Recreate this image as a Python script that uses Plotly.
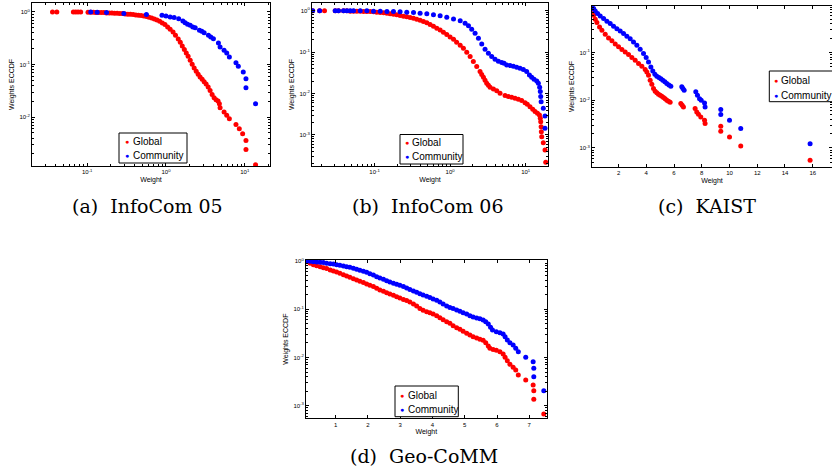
import math
import plotly.graph_objects as go

# ---------------- data ----------------
# (a) InfoCom 05
a_global_w = [0.0363, 0.0412, 0.0668, 0.0716, 0.0766, 0.0828, 0.1025, 0.111, 0.120, 0.129,
              0.140, 0.151, 0.163, 0.176, 0.191, 0.206, 0.222, 0.240, 0.260, 0.281,
              0.303, 0.328, 0.354, 0.383, 0.414, 0.447, 0.483, 0.522, 0.565, 0.610,
              0.659, 0.712, 0.769, 0.832, 0.899, 0.971, 1.05, 1.13, 1.23, 1.32,
              1.43, 1.52, 1.61, 1.71, 1.81, 1.91, 2.03, 2.15, 2.28, 2.42,
              2.56, 2.71, 2.88, 3.05, 3.23, 3.43, 3.63, 3.85, 4.08, 4.32,
              4.58, 4.76, 4.86, 5.46, 5.90, 6.37, 7.73, 8.52, 9.39, 10.35,
              10.35, 13.7]
a_global_ccdf = [1.0, 1.0, 1.0, 1.0, 1.0, 1.0, 0.985, 0.985, 0.985, 0.971,
                 0.971, 0.971, 0.971, 0.957, 0.957, 0.957, 0.943, 0.943, 0.930, 0.930,
                 0.916, 0.903, 0.903, 0.890, 0.877, 0.864, 0.852, 0.839, 0.815, 0.791,
                 0.769, 0.736, 0.704, 0.664, 0.617, 0.574, 0.518, 0.468, 0.416, 0.359,
                 0.306, 0.264, 0.225, 0.192, 0.166, 0.143, 0.120, 0.101, 0.0858, 0.0741,
                 0.0650, 0.0578, 0.0522, 0.0471, 0.0425, 0.0373, 0.0322, 0.0270, 0.0233, 0.0214,
                 0.0202, 0.0180, 0.0151, 0.0125, 0.0108, 0.0093, 0.00725, 0.0060, 0.00482, 0.0036,
                 0.00242, 0.00124]
a_comm_w = [0.111, 0.134, 0.176, 0.292, 0.565, 0.890, 1.0, 1.13, 1.27, 1.45,
            1.64, 1.75, 1.88, 2.03, 2.19, 2.35, 2.66, 2.85, 3.05, 3.46,
            3.70, 4.00, 4.63, 4.86, 5.46, 5.90, 6.37, 7.73, 8.28, 9.57,
            10.35, 10.35, 13.7]
a_comm_ccdf = [1.0, 0.985, 0.971, 0.930, 0.890, 0.864, 0.839, 0.803, 0.780, 0.746,
               0.674, 0.626, 0.582, 0.557, 0.518, 0.503, 0.448, 0.428, 0.404, 0.359,
               0.334, 0.310, 0.257, 0.216, 0.186, 0.166, 0.139, 0.108, 0.0923, 0.0720,
               0.0537, 0.0362, 0.0180]

# (b) InfoCom 06
b_global_w = [0.0152, 0.0188, 0.0218, 0.0302, 0.0334, 0.0389, 0.0431, 0.0477, 0.0528, 0.0584,
              0.0647, 0.0716, 0.0792, 0.0877, 0.0970, 0.107, 0.119, 0.132, 0.146, 0.161,
              0.178, 0.197, 0.218, 0.242, 0.267, 0.296, 0.328, 0.362, 0.401, 0.444,
              0.492, 0.544, 0.602, 0.667, 0.738, 0.816, 0.903, 1.0, 1.11, 1.22,
              1.36, 1.50, 1.66, 1.84, 2.03, 2.25, 2.49, 2.62, 2.76, 2.90,
              3.05, 3.21, 3.38, 3.74, 4.14, 4.58, 5.33, 5.90, 6.53, 7.23,
              8.00, 8.85, 9.80, 10.5, 11.4, 12.4, 13.3, 14.3, 15.2, 15.6,
              15.8, 16.0, 16.1, 16.3, 17.1, 18.0, 18.4]
b_global_ccdf = [1.0, 1.0, 1.0, 1.0, 1.0, 1.0, 1.0, 0.982, 0.982, 0.982,
                 0.982, 0.964, 0.964, 0.964, 0.946, 0.928, 0.911, 0.895, 0.878, 0.846,
                 0.830, 0.800, 0.771, 0.743, 0.716, 0.690, 0.665, 0.629, 0.594, 0.552,
                 0.513, 0.467, 0.426, 0.381, 0.347, 0.305, 0.268, 0.235, 0.206, 0.175,
                 0.148, 0.125, 0.100, 0.0786, 0.0594, 0.0450, 0.0340, 0.0288, 0.0248, 0.0210,
                 0.0178, 0.0159, 0.0142, 0.0130, 0.0118, 0.0102, 0.00895, 0.00846, 0.00815, 0.00771,
                 0.00729, 0.00677, 0.00605, 0.00552, 0.00484, 0.00418, 0.00367, 0.00334, 0.00305, 0.00253,
                 0.00210, 0.00159, 0.00120, 0.000912, 0.000653, 0.000434, 0.000218]
b_comm_w = [0.0152, 0.0188, 0.0302, 0.0334, 0.0389, 0.0431, 0.0477, 0.0528, 0.0647, 0.0792,
            0.0970, 0.119, 0.146, 0.178, 0.218, 0.267, 0.328, 0.401, 0.492, 0.602,
            0.738, 0.903, 1.11, 1.36, 1.58, 1.75, 1.93, 2.14, 2.37, 2.62,
            2.90, 3.21, 3.55, 3.93, 4.35, 4.82, 5.17, 5.61, 6.21, 6.87,
            7.60, 8.41, 9.31, 10.3, 11.2, 12.0, 12.9, 14.0, 14.7, 15.3,
            15.6, 15.8, 16.0, 17.1, 18.0, 18.0]
b_comm_ccdf = [1.0, 1.0, 1.0, 1.0, 1.0, 1.0, 1.0, 1.0, 1.0, 1.0,
               0.982, 0.982, 0.964, 0.964, 0.946, 0.928, 0.911, 0.878, 0.846, 0.800,
               0.757, 0.703, 0.640, 0.573, 0.503, 0.434, 0.360, 0.288, 0.218, 0.159,
               0.118, 0.0946, 0.0786, 0.0677, 0.0605, 0.0562, 0.0542, 0.0494, 0.0476, 0.0458,
               0.0434, 0.0410, 0.0381, 0.0340, 0.0283, 0.0248, 0.0222, 0.0202, 0.0178, 0.0142,
               0.0112, 0.00846, 0.00639, 0.00442, 0.00288, 0.00145]

# (c) KAIST
c_global_w = [0.08, 0.20, 0.32, 0.44, 0.63, 0.80, 1.04, 1.28, 1.52, 1.76,
              2.00, 2.24, 2.48, 2.72, 2.96, 3.20, 3.44, 3.68, 3.92, 4.04,
              4.16, 4.28, 4.40, 4.52, 4.64, 4.76, 4.88, 5.00, 5.12, 5.24,
              5.36, 5.48, 5.60, 5.72, 6.49, 6.59, 6.68, 7.52, 7.64, 7.76,
              7.93, 8.20, 8.24, 9.37, 9.37, 10.00, 10.81, 15.81]
c_global_ccdf = [0.798, 0.607, 0.500, 0.426, 0.345, 0.294, 0.243, 0.203, 0.176, 0.152,
                 0.132, 0.116, 0.103, 0.0908, 0.0785, 0.0690, 0.0588, 0.0517, 0.0440, 0.0393,
                 0.0334, 0.0263, 0.0217, 0.0176, 0.0155, 0.0143, 0.0134, 0.0127, 0.0121, 0.0114,
                 0.0107, 0.0100, 0.00953, 0.00908, 0.00851, 0.00785, 0.00724, 0.00668, 0.00569, 0.00508,
                 0.00447, 0.00380, 0.00324, 0.00285, 0.00224, 0.00170, 0.00110, 0.000551]
c_comm_w = [0.08, 0.20, 0.32, 0.49, 0.68, 0.92, 1.16, 1.40, 1.64, 1.88,
            2.12, 2.36, 2.60, 2.84, 3.08, 3.32, 3.56, 3.80, 3.99, 4.16,
            4.33, 4.47, 4.62, 4.76, 4.91, 5.05, 5.19, 5.34, 5.48, 5.63,
            5.77, 6.56, 6.64, 6.73, 7.57, 7.69, 7.84, 7.96, 8.20, 8.24,
            9.37, 9.37, 10.00, 10.81, 15.81]
c_comm_ccdf = [0.953, 0.838, 0.748, 0.658, 0.588, 0.517, 0.454, 0.406, 0.356, 0.318,
               0.285, 0.250, 0.220, 0.194, 0.167, 0.143, 0.117, 0.0953, 0.0785, 0.0637,
               0.0500, 0.0412, 0.0351, 0.0319, 0.0299, 0.0281, 0.0263, 0.0243, 0.0224, 0.0210,
               0.0197, 0.0191, 0.0176, 0.0162, 0.0150, 0.0127, 0.0108, 0.0100, 0.00879, 0.00724,
               0.00637, 0.00500, 0.00380, 0.00255, 0.00123]

# (d) Geo-CoMM
d_global_w = [0.10, 0.21, 0.31, 0.41, 0.52, 0.62, 0.72, 0.83, 0.93, 1.03,
              1.13, 1.24, 1.34, 1.44, 1.55, 1.65, 1.75, 1.86, 1.96, 2.06,
              2.17, 2.27, 2.37, 2.48, 2.58, 2.68, 2.79, 2.89, 2.99, 3.10,
              3.20, 3.30, 3.41, 3.51, 3.61, 3.71, 3.82, 3.92, 4.02, 4.13,
              4.23, 4.33, 4.44, 4.54, 4.64, 4.75, 4.85, 4.95, 5.06, 5.16,
              5.26, 5.37, 5.47, 5.57, 5.65, 5.73, 5.78, 5.88, 5.98, 6.09,
              6.19, 6.25, 6.32, 6.40, 6.50, 6.58, 6.66, 6.89, 7.12, 7.14,
              7.14, 7.45]
d_global_ccdf = [0.969, 0.895, 0.839, 0.800, 0.763, 0.727, 0.694, 0.651, 0.621, 0.592,
                 0.555, 0.521, 0.489, 0.458, 0.430, 0.404, 0.379, 0.356, 0.334, 0.313,
                 0.294, 0.271, 0.250, 0.235, 0.220, 0.207, 0.194, 0.182, 0.171, 0.160,
                 0.151, 0.141, 0.128, 0.117, 0.104, 0.0948, 0.0891, 0.0849, 0.0796, 0.0736,
                 0.0669, 0.0608, 0.0553, 0.0510, 0.0456, 0.0415, 0.0383, 0.0348, 0.0316, 0.0292,
                 0.0270, 0.0253, 0.0238, 0.0227, 0.0203, 0.0173, 0.0155, 0.0147, 0.0141, 0.0132,
                 0.0118, 0.0101, 0.00859, 0.00721, 0.00624, 0.00550, 0.00433, 0.00341, 0.00269, 0.00205,
                 0.00136, 0.000673]
d_comm_w = [0.10, 0.21, 0.31, 0.41, 0.52, 0.62, 0.72, 0.83, 0.93, 1.03,
            1.13, 1.24, 1.34, 1.44, 1.55, 1.65, 1.75, 1.86, 1.96, 2.06,
            2.17, 2.27, 2.37, 2.48, 2.58, 2.68, 2.79, 2.89, 2.99, 3.10,
            3.20, 3.30, 3.41, 3.51, 3.61, 3.71, 3.82, 3.92, 4.02, 4.13,
            4.23, 4.33, 4.44, 4.54, 4.64, 4.75, 4.85, 4.95, 5.06, 5.16,
            5.26, 5.37, 5.47, 5.57, 5.65, 5.73, 5.80, 5.86, 5.98, 6.09,
            6.19, 6.25, 6.32, 6.40, 6.50, 6.58, 6.66, 6.89, 7.12, 7.14,
            7.14, 7.45]
d_comm_ccdf = [1.0, 0.984, 0.969, 0.953, 0.938, 0.924, 0.895, 0.880, 0.867, 0.839,
               0.813, 0.788, 0.763, 0.739, 0.705, 0.672, 0.641, 0.611, 0.582, 0.546,
               0.513, 0.473, 0.444, 0.417, 0.391, 0.367, 0.344, 0.328, 0.313, 0.294,
               0.276, 0.255, 0.239, 0.224, 0.210, 0.197, 0.185, 0.174, 0.163, 0.153,
               0.141, 0.128, 0.117, 0.109, 0.103, 0.0964, 0.0904, 0.0849, 0.0796, 0.0736,
               0.0690, 0.0658, 0.0637, 0.0598, 0.0553, 0.0494, 0.0421, 0.0371, 0.0343, 0.0327,
               0.0307, 0.0270, 0.0230, 0.0203, 0.0181, 0.0155, 0.0132, 0.0101, 0.00818, 0.00595,
               0.00400, 0.00205]

series_names = ["Global", "Community"]
captions = ["(a)\u00a0\u00a0InfoCom 05", "(b)\u00a0\u00a0InfoCom 06", "(c)\u00a0\u00a0KAIST", "(d)\u00a0\u00a0Geo-CoMM"]
x_title = "Weight"
y_title = "Weights ECCDF"

RED = "#ff0000"
BLUE = "#0000ff"
COLORS = [RED, BLUE]
panels = [
    (a_global_w, a_global_ccdf, a_comm_w, a_comm_ccdf),
    (b_global_w, b_global_ccdf, b_comm_w, b_comm_ccdf),
    (c_global_w, c_global_ccdf, c_comm_w, c_comm_ccdf),
    (d_global_w, d_global_ccdf, d_comm_w, d_comm_ccdf),
]

fig = go.Figure()
for i, (gx, gy, cx, cy) in enumerate(panels):
    sfx = "" if i == 0 else str(i + 1)
    fig.add_trace(go.Scatter(x=gx, y=gy, mode="markers", name=series_names[0],
                             marker=dict(color=RED, size=5), xaxis="x" + sfx, yaxis="y" + sfx,
                             showlegend=False))
    fig.add_trace(go.Scatter(x=cx, y=cy, mode="markers", name=series_names[1],
                             marker=dict(color=BLUE, size=5), xaxis="x" + sfx, yaxis="y" + sfx,
                             showlegend=False))

W, H = 832, 473
def px_x(a, b):
    return [a / W, b / W]
def px_y(top, bottom):
    return [1 - bottom / H, 1 - top / H]

SANS = "Liberation Sans, Arial, sans-serif"
tick_font = dict(family=SANS, size=6, color="black")
title_font = dict(family=SANS, size=7, color="black")

def sup(p):
    return "10<sup>%s</sup>" % (str(p) if p >= 0 else "-" + str(-p))

def log_minor(rng):
    vals = []
    for e in range(int(math.floor(rng[0])) - 1, int(math.ceil(rng[1])) + 1):
        for m in range(2, 10):
            lv = e + math.log10(m)
            if rng[0] < lv < rng[1]:
                vals.append(m * 10.0 ** e)
    return vals

common = dict(showline=True, linecolor="black", linewidth=1, mirror="allticks",
              ticks="inside", ticklen=3, tickwidth=0.8, tickcolor="black",
              showgrid=False, zeroline=False, tickfont=tick_font, fixedrange=True)

def log_axis(domain, rng, exps, title, standoff):
    return dict(common, type="log", domain=domain, range=rng,
                tickmode="array", tickvals=[10.0 ** e for e in exps],
                ticktext=[sup(e) for e in exps],
                minor=dict(tickmode="array", tickvals=log_minor(rng),
                           ticks="inside", ticklen=1.8, tickwidth=0.6, tickcolor="black"),
                title=dict(text=title, font=title_font, standoff=standoff))

def lin_axis(domain, rng, vals, title, standoff):
    return dict(common, type="linear", domain=domain, range=rng,
                tickmode="array", tickvals=vals, ticktext=[str(v) for v in vals],
                title=dict(text=title, font=title_font, standoff=standoff))

layout = dict(
    width=W, height=H,
    margin=dict(l=0, r=0, t=0, b=0, autoexpand=False),
    paper_bgcolor="white", plot_bgcolor="white",
    showlegend=False,
    xaxis=log_axis(px_x(32, 270), [-1.70, 1.32], [-1, 0, 1], x_title, 2),
    yaxis=log_axis(px_y(3, 166), [-2.93, 0.17], [-2, -1, 0], y_title, 3),
    xaxis2=log_axis(px_x(312, 548), [-1.827, 1.295], [-1, 0, 1], x_title, 2),
    yaxis2=log_axis(px_y(3, 166), [-3.75, 0.19], [-3, -2, -1, 0], y_title, 3),
    xaxis3=lin_axis(px_x(592, 832), [0.086, 17.39], [2, 4, 6, 8, 10, 12, 14, 16], x_title, 2),
    yaxis3=log_axis(px_y(6, 167), [-3.40, -0.023], [-3, -2, -1], y_title, 3),
    xaxis4=lin_axis(px_x(306, 546.7), [0.08, 7.54], [1, 2, 3, 4, 5, 6, 7], x_title, 2),
    yaxis4=log_axis(px_y(260, 418.3), [-3.26, 0.02], [-3, -2, -1, 0], y_title, 3),
)
layout["xaxis"]["anchor"] = "y"
layout["yaxis"]["anchor"] = "x"
for n in ["2", "3", "4"]:
    layout["xaxis" + n]["anchor"] = "y" + n
    layout["yaxis" + n]["anchor"] = "x" + n

# legend boxes (pixel layout: box x0, x1, y0, y1, row centres, dot x, text x)
legend_boxes = [
    (119, 187, 133, 163, (141.7, 155.7), 126.7, 133),
    (400, 463, 134.5, 164, (142.7, 156.7), 406.7, 412.3),
    (769.3, 840, 71, 101.7, (80, 95), 776, 781),
    (395, 458.3, 386, 416.7, (395.7, 409.3), 402.3, 408.3),
]
shapes = []
annotations = []
for (x0, x1, y0, y1, rows, dx, tx) in legend_boxes:
    shapes.append(dict(type="rect", xref="paper", yref="paper",
                       x0=x0 / W, x1=x1 / W, y0=1 - y1 / H, y1=1 - y0 / H,
                       line=dict(color="black", width=1), fillcolor="white", layer="above"))
    for ry, col, name in zip(rows, COLORS, series_names):
        annotations.append(dict(text="\u25CF", x=dx / W, y=1 - ry / H, xref="paper", yref="paper",
                                xanchor="center", yanchor="middle", showarrow=False,
                                font=dict(family=SANS, size=7, color=col), borderpad=0, borderwidth=0))
        annotations.append(dict(text=name, x=tx / W, y=1 - ry / H, xref="paper", yref="paper",
                                xanchor="left", yanchor="middle", showarrow=False,
                                font=dict(family=SANS, size=10, color="black"),
                                borderpad=0, borderwidth=0))

cap_font = dict(family="DejaVu Serif, serif", size=19, color="black")
cap_pos = [(147.5, 206), (427.5, 206), (707, 206), (423.5, 456)]
for t, (cx, cy) in zip(captions, cap_pos):
    annotations.append(dict(text=t, x=cx / W, y=1 - cy / H, xref="paper", yref="paper",
                            xanchor="center", yanchor="middle", showarrow=False, font=cap_font))

layout["shapes"] = shapes
layout["annotations"] = annotations

fig.update_layout(**layout)
fig.write_html("out.html",
               config={"displayModeBar": False, "staticPlot": False},
               post_script="document.body.style.margin='0px';document.body.style.padding='0px';")
